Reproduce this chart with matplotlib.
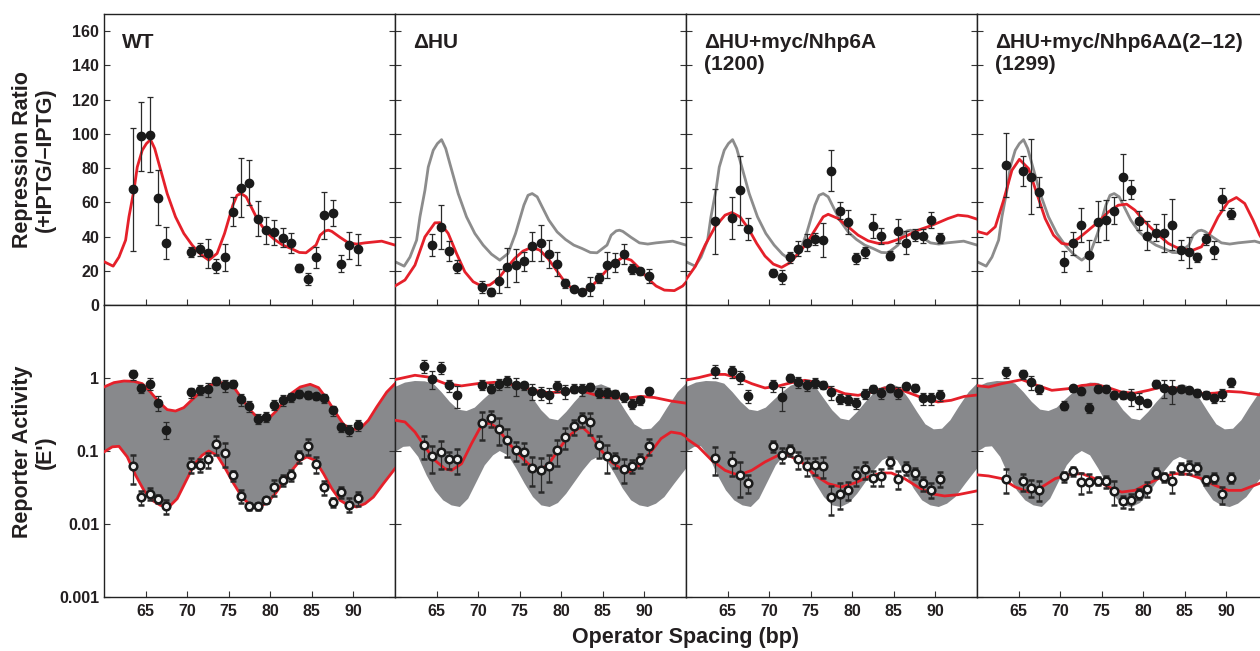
import numpy as np
import matplotlib.pyplot as plt
from matplotlib.ticker import NullLocator

plt.rcParams['font.family'] = ['Liberation Sans', 'DejaVu Sans']
plt.rcParams['font.weight'] = 'bold'

nan = np.nan

# operator spacing (bp) of the measured constructs
spacing = [63.5, 64.5, 65.5, 66.5, 67.5, 70.5, 71.5, 72.5, 73.5, 74.5, 75.5, 76.5, 77.5,
           78.5, 79.5, 80.5, 81.5, 82.5, 83.5, 84.5, 85.5, 86.5, 87.5, 88.5, 89.5, 90.5]

titles = ['WT', '\u0394HU', '\u0394HU+myc/Nhp6A\n(1200)', '\u0394HU+myc/Nhp6A\u0394(2\u201312)\n(1299)']

# ---- top row: repression ratio ----
rr_wt = [67.6, 98.5, 99.5, 62.6, 36.3, 31.1, 32.5, 30.1, 22.9, 27.8, 54.4, 68.6, 71.5,
         50.5, 43.7, 42.4, 39.2, 36.3, 21.7, 15.3, 27.8, 52.3, 53.8, 24.1, 34.8, 32.5]
rr_wt_err = [36, 20, 22, 16, 9.5, 3, 4, 8.5, 4, 8, 8.5, 17, 13, 10, 8, 7.5, 5.5, 6, 2.5,
             3.5, 6, 14, 7.5, 5, 8, 9]
rr_hu = [nan, 35.2, 45.7, 31.5, 22.4, 10.7, 7.6, 14, 22, 23.3, 25.5, 34.4, 36, 29.7,
         23.9, 12.6, 9.3, 7.6, 10.7, 15.7, 23.3, 24.7, 29.7, 21, 19.8, 17.1]
rr_hu_err = [nan, 6.5, 13, 5.8, 3.9, 3.5, 2.6, 7, 11.5, 9.7, 5.5, 8.5, 10.5, 8, 7, 2.4,
             1.5, 1.5, 5.5, 3, 7.8, 5.5, 5.8, 3, 2, 4]
rr_1200 = [49, nan, 50.9, 67, 44.5, 18.8, 16.5, 27.8, 33, 36.5, 38.5, 37.9, 78.5, 55.2,
           48.6, 27.2, 30.7, 46.3, 40.2, 28.8, 43.3, 36.5, 40.8, 40.2, 49.4, 39.2]
rr_1200_err = [19, nan, 12.3, 20, 6.3, 2, 4, 3, 4.5, 5, 3.5, 10, 12, 5, 7, 3, 3, 7, 4.5,
               2.5, 7, 6.5, 3.5, 4, 4.7, 3]
rr_1299 = [82, nan, 78.3, 75, 66.1, 25.3, 36, 46.6, 29.1, 48.6, 49.6, 55.2, 74.8, 67.4,
           49.2, 40.4, 42.2, 42.2, 47, 32.1, 30.7, 27.8, 38.3, 32.1, 61.8, 53.4]
rr_1299_err = [18.7, nan, 9, 22, 8.7, 6, 6.5, 10, 9, 12, 11.5, 8, 13.5, 5.5, 5.5, 8.5, 5,
               11, 15, 6, 9, 2.5, 3, 5.5, 6.5, 3.3]

# model fits (WT fit is repeated in grey on the other panels)
fit_wt_x = [60.0, 61.1, 61.8, 62.6, 63.0, 63.6, 64.0, 64.6, 65.1, 65.6, 66.1, 66.6, 67.1,
            67.6, 68.6, 69.6, 70.6, 71.6, 72.6, 73.6, 74.5, 75.5, 76.0, 76.5, 77.1, 77.6,
            78.5, 79.5, 80.5, 81.5, 82.5, 83.5, 84.3, 85.5, 86.0, 86.6, 87.0, 87.4, 88.4,
            89.4, 90.4, 91.4, 93.4, 95.0]
fit_wt_y = [25.3, 22.7, 28, 37.9, 51.5, 67, 80.6, 90.4, 94.3, 96.6, 91.4, 82.6, 73.9,
            65.1, 51.5, 41.8, 35, 29.7, 26.2, 30.1, 41.8, 58.3, 64.1, 65.1, 63.2, 58.3,
            49.6, 42.7, 38.3, 35, 33, 30.7, 30.5, 35, 40.8, 43.3, 43.7, 43, 39.5, 36.3,
            35.6, 36.3, 37.3, 35]
fit_hu_x = [60.0, 61.2, 62.4, 63.6, 64.8, 65.4, 66.4, 67.4, 68.4, 69.4, 70.4, 71.4, 72.4,
            73.4, 74.4, 75.4, 76.4, 77.4, 78.4, 79.4, 80.4, 81.4, 82.4, 83.4, 84.4, 85.4,
            86.4, 87.4, 88.4, 89.4, 90.4, 91.4, 92.4, 93.6, 94.6, 95.4]
fit_hu_y = [11.1, 14.6, 23.3, 39.8, 48, 48.1, 41.8, 30.1, 19.4, 13.6, 11.1, 11.7, 15.2,
            21.4, 27.2, 31.5, 33.6, 32.1, 27.2, 20.4, 13.6, 9.1, 7.8, 9.7, 14.6, 20, 24.7,
            27.8, 26.2, 21.4, 15.5, 11.1, 8.7, 8.4, 11.1, 15.5]
fit_1200_x = [59.9, 61.1, 62.3, 63.5, 64.7, 65.5, 66.5, 67.5, 68.5, 69.5, 70.5, 71.5, 72.5,
              73.5, 74.5, 75.5, 76.5, 77.1, 78.3, 79.5, 80.7, 81.9, 83.1, 84.3, 85.5, 86.7,
              87.9, 89.1, 90.3, 91.5, 92.7, 93.9, 95.1]
fit_1200_y = [14.2, 22.4, 35, 45.7, 52.5, 54, 51.5, 44.7, 36, 28.6, 23.9, 22, 24.7, 30.1,
              36, 43.7, 51.5, 53, 50.5, 45.7, 40.8, 37.5, 36, 36.3, 38.3, 40.8, 43.7, 45.7,
              48, 50.5, 52.5, 51.9, 50]
fit_1299_x = [60.0, 61.2, 62.2, 63.2, 64.2, 65.1, 66.2, 67.2, 68.2, 69.2, 70.2, 71.0, 72.2,
              73.4, 74.6, 75.8, 77.0, 78.0, 79.0, 80.0, 81.0, 82.0, 83.0, 84.0, 85.0, 86.0,
              87.0, 88.0, 89.0, 90.2, 91.2, 92.2, 93.2, 94.0, 95.0]
fit_1299_y = [43, 41.4, 45.7, 61.2, 78.7, 85.1, 79.7, 65.1, 50.5, 40.8, 36, 35.4, 38.9,
              43.7, 48.6, 54.4, 58.3, 58.9, 55.4, 49.6, 44.7, 40.2, 36, 33.6, 32.5, 32.1,
              34, 41.8, 51.5, 60.2, 62.8, 59.3, 49.6, 40.8, 33]

# ---- bottom row: reporter activity (E') ----
ra_wt_hi = [1.12, 0.73, 0.837, 0.46, 0.196, 0.64, 0.692, 0.707, 0.91, 0.794, 0.83, 0.51,
            0.41, 0.278, 0.292, 0.431, 0.5, 0.55, 0.604, 0.59, 0.567, 0.532, 0.36, 0.213,
            0.196, 0.227]
ra_wt_hi_err = [0.17, 0.11, 0.15, 0.11, 0.05, 0.1, 0.11, 0.15, 0.12, 0.15, 0.1, 0.09, 0.07,
                0.045, 0.045, 0.07, 0.09, 0.08, 0.08, 0.07, 0.06, 0.08, 0.055, 0.03, 0.033,
                0.04]
ra_wt_lo = [0.0615, 0.0234, 0.026, 0.0222, 0.0175, 0.065, 0.065, 0.0769, 0.126, 0.094,
            0.0465, 0.0242, 0.0175, 0.0175, 0.0211, 0.0321, 0.0397, 0.0465, 0.0845, 0.117,
            0.0657, 0.0321, 0.02, 0.0274, 0.0184, 0.0227]
ra_wt_lo_err = [0.026, 0.005, 0.005, 0.003, 0.0037, 0.015, 0.013, 0.018, 0.037, 0.033,
                0.0075, 0.005, 0.002, 0.002, 0.002, 0.008, 0.007, 0.008, 0.015, 0.03, 0.016,
                0.007, 0.003, 0.005, 0.004, 0.005]
ra_hu_hi = [1.46, 0.98, 1.39, 0.79, 0.579, 0.81, 0.715, 0.828, 0.91, 0.794, 0.794, 0.664,
            0.624, 0.59, 0.769, 0.664, 0.715, 0.70, 0.753, 0.63, 0.624, 0.61, 0.55, 0.445,
            0.495, 0.656]
ra_hu_hi_err = [0.3, 0.28, 0.27, 0.15, 0.19, 0.13, 0.1, 0.14, 0.15, 0.22, 0.1, 0.16, 0.13,
                0.13, 0.13, 0.15, 0.1, 0.13, 0.09, 0.1, 0.1, 0.08, 0.08, 0.07, 0.07, 0.08]
ra_hu_lo = [0.12, 0.0845, 0.097, 0.077, 0.077, 0.242, 0.286, 0.2, 0.143, 0.103, 0.097,
            0.0585, 0.0543, 0.0623, 0.102, 0.156, 0.218, 0.272, 0.247, 0.12, 0.0845, 0.077,
            0.0566, 0.0623, 0.0745, 0.117]
ra_hu_lo_err = [0.042, 0.034, 0.04, 0.02, 0.028, 0.1, 0.07, 0.08, 0.06, 0.03, 0.03, 0.025,
                0.027, 0.025, 0.04, 0.05, 0.05, 0.06, 0.08, 0.04, 0.035, 0.018, 0.02, 0.013,
                0.016, 0.03]
ra_1200_hi = [1.25, nan, 1.23, 1.03, 0.567, 0.79, 0.55, 1.01, 0.88, 0.81, 0.865, 0.81,
              0.64, 0.52, 0.505, 0.46, 0.61, 0.715, 0.63, 0.73, 0.63, 0.777, 0.737, 0.532,
              0.532, 0.59]
ra_1200_hi_err = [0.24, nan, 0.23, 0.2, 0.11, 0.15, 0.2, 0.11, 0.15, 0.14, 0.14, 0.11, 0.14,
                  0.08, 0.08, 0.08, 0.09, 0.08, 0.11, 0.08, 0.12, 0.09, 0.08, 0.1, 0.1, 0.1]
ra_1200_lo = [0.0802, nan, 0.0708, 0.0474, 0.0365, 0.117, 0.089, 0.104, 0.077, 0.0623,
              0.0637, 0.0623, 0.0234, 0.026, 0.0295, 0.0465, 0.0566, 0.0432, 0.045, 0.0708,
              0.0418, 0.0592, 0.05, 0.0365, 0.0295, 0.0418]
ra_1200_lo_err = [0.033, nan, 0.025, 0.024, 0.01, 0.02, 0.02, 0.018, 0.02, 0.017, 0.017,
                  0.02, 0.01, 0.01, 0.008, 0.013, 0.015, 0.01, 0.012, 0.013, 0.012, 0.012,
                  0.009, 0.008, 0.007, 0.01]
ra_1299_hi = [1.21, nan, 1.12, 0.88, 0.70, 0.42, 0.73, 0.656, 0.389, 0.715, 0.715, 0.59,
              0.59, 0.567, 0.495, 0.455, 0.837, 0.73, 0.692, 0.715, 0.678, 0.63, 0.59,
              0.532, 0.598, 0.88]
ra_1299_hi_err = [0.2, nan, 0.15, 0.2, 0.1, 0.06, 0.08, 0.07, 0.06, 0.08, 0.08, 0.08, 0.08,
                  0.15, 0.12, 0.04, 0.1, 0.2, 0.25, 0.08, 0.08, 0.08, 0.08, 0.08, 0.12, 0.12]
ra_1299_lo = [0.0418, nan, 0.0385, 0.0315, 0.0295, 0.045, 0.0532, 0.0377, 0.0377, 0.039,
              0.0385, 0.0283, 0.0205, 0.0211, 0.026, 0.0305, 0.0506, 0.044, 0.039, 0.0585,
              0.06, 0.0585, 0.0397, 0.0432, 0.0256, 0.0432]
ra_1299_lo_err = [0.015, nan, 0.01, 0.008, 0.009, 0.007, 0.008, 0.012, 0.01, 0.005, 0.007,
                  0.01, 0.004, 0.005, 0.004, 0.007, 0.008, 0.006, 0.012, 0.01, 0.012, 0.01,
                  0.006, 0.007, 0.007, 0.007]

# WT model envelope (grey band), edges
band_hi_x = [60.0, 61.2, 62.4, 63.6, 64.6, 65.6, 66.6, 67.6, 68.6, 69.6, 70.6, 71.6, 72.6,
             73.6, 74.6, 75.6, 76.6, 77.6, 78.6, 79.6, 80.6, 81.6, 82.6, 83.6, 84.8, 85.8,
             86.8, 87.8, 88.8, 89.8, 90.8, 91.8, 92.8, 94.0, 95.0]
band_hi_y = [0.753, 0.865, 0.91, 0.90, 0.837, 0.64, 0.47, 0.369, 0.353, 0.393, 0.505, 0.64,
             0.785, 0.865, 0.855, 0.753, 0.52, 0.361, 0.278, 0.264, 0.343, 0.47, 0.624,
             0.753, 0.82, 0.737, 0.52, 0.343, 0.232, 0.198, 0.202, 0.264, 0.401, 0.64, 0.837]
band_lo_x = [60.0, 61.0, 61.8, 62.8, 63.8, 64.8, 65.8, 66.8, 67.8, 68.8, 69.8, 70.8, 71.8,
             72.6, 73.6, 74.6, 75.6, 76.6, 77.6, 78.6, 79.6, 80.6, 81.6, 82.6, 83.6, 84.4,
             85.4, 86.4, 87.4, 88.4, 89.4, 90.4, 91.4, 92.4, 93.6, 95.0]
band_lo_y = [0.097, 0.114, 0.116, 0.083, 0.0465, 0.0289, 0.0211, 0.018, 0.0171, 0.0222,
             0.0376, 0.0637, 0.0873, 0.1, 0.0873, 0.0573, 0.0357, 0.0234, 0.018, 0.0171,
             0.0194, 0.026, 0.0376, 0.0543, 0.0745, 0.083, 0.0745, 0.049, 0.0305, 0.0211,
             0.018, 0.0171, 0.019, 0.0234, 0.0357, 0.0573]

# model fits for the mutants (-IPTG upper, +IPTG lower)
hu_hi_x = [60, 62.4, 64, 66, 68, 70, 72, 73.6, 75.2, 76.8, 78.4, 80, 82, 84, 86, 88, 89.6,
           91.2, 93.2, 95.4]
hu_hi_y = [0.95, 1.09, 1.03, 0.84, 0.78, 0.84, 0.873, 0.84, 0.753, 0.678, 0.63, 0.64, 0.692,
           0.59, 0.532, 0.532, 0.56, 0.54, 0.484, 0.445]
hu_lo_x = [60, 61.2, 62.4, 63.6, 64.8, 66, 66.8, 68, 69.2, 70.4, 71.4, 72.4, 73.6, 74.8, 76,
           77.2, 78.4, 79.6, 80.8, 82, 82.6, 83.6, 84.8, 86, 87.2, 88.2, 89.4, 90.6, 92,
           93.2, 94.4, 95.4]
hu_lo_y = [0.264, 0.25, 0.182, 0.114, 0.0745, 0.0573, 0.0543, 0.067, 0.126, 0.225, 0.242,
           0.202, 0.131, 0.092, 0.067, 0.0543, 0.064, 0.102, 0.156, 0.202, 0.209, 0.164,
           0.102, 0.0708, 0.0573, 0.0515, 0.064, 0.092, 0.148, 0.182, 0.173, 0.148]
n1200_hi_x = [59.9, 61.5, 63.1, 64.7, 66.3, 67.9, 69.5, 71.1, 72.7, 74.3, 75.9, 77.5, 79.1,
              80.7, 82.3, 83.9, 85.5, 87.1, 88.7, 90.3, 91.9, 93.5, 95.3]
n1200_hi_y = [0.93, 1.01, 1.12, 1.12, 1.0, 0.837, 0.73, 0.777, 0.865, 0.93, 0.865, 0.715,
              0.61, 0.579, 0.64, 0.73, 0.715, 0.61, 0.52, 0.47, 0.495, 0.56, 0.59]
n1200_lo_x = [59.9, 61.5, 63.1, 64.7, 66.3, 67.9, 69.5, 71.1, 72.3, 73.9, 75.5, 77.1, 78.7,
              80.3, 81.9, 83.5, 84.7, 86.3, 87.9, 89.5, 91.1, 92.7, 94.3, 95.3]
n1200_lo_y = [0.152, 0.114, 0.0745, 0.0543, 0.0465, 0.0543, 0.0708, 0.0873, 0.0873, 0.0708,
              0.0465, 0.0357, 0.0321, 0.0365, 0.044, 0.05, 0.05, 0.0418, 0.0321, 0.026,
              0.0242, 0.0252, 0.0274, 0.0289]
n1299_hi_x = [59.8, 61.4, 63.0, 65.4, 67.0, 69.0, 71.0, 72.6, 74.2, 75.8, 77.4, 79.0, 80.6,
              82.2, 83.8, 85.4, 87.0, 88.6, 90.2, 91.8, 93.9, 95.0]
n1299_hi_y = [0.79, 0.753, 0.837, 0.95, 0.81, 0.678, 0.715, 0.79, 0.82, 0.737, 0.64, 0.62,
              0.678, 0.753, 0.73, 0.678, 0.61, 0.62, 0.656, 0.64, 0.59, 0.57]
n1299_lo_x = [59.8, 61.4, 63.0, 64.6, 66.2, 67.8, 69.4, 71.0, 72.6, 74.2, 75.8, 77.4, 79.0,
              80.6, 82.2, 83.8, 85.4, 87.0, 88.6, 90.2, 91.8, 93.9, 95.0]
n1299_lo_y = [0.0474, 0.0455, 0.0418, 0.0321, 0.0274, 0.0321, 0.0418, 0.0474, 0.049, 0.0418,
              0.0321, 0.0274, 0.0289, 0.0357, 0.044, 0.049, 0.048, 0.0418, 0.0339, 0.0289,
              0.0289, 0.0357, 0.04]

RED = '#e5202a'
GREY_LINE = '#8c8c8c'
BAND = '#88898c'
INK = '#231f20'

W, H = 1260, 651
fig = plt.figure(figsize=(W / 100, H / 100), dpi=100)
lefts = [104, 395, 686, 977]
top_axes = [fig.add_axes([l / W, (H - 305) / H, 291 / W, 291 / H]) for l in lefts]
bot_axes = [fig.add_axes([l / W, (H - 597) / H, 291 / W, 292 / H]) for l in lefts]


def style(ax, first, bottom):
    ax.set_xlim(60, 95)
    ax.set_xticks([65, 70, 75, 80, 85, 90])
    ax.tick_params(direction='in', length=4.5, width=0.8, right=True, color='#333',
                   labelcolor=INK, labelsize=11.5, pad=3.5)
    ax.tick_params(axis='x', pad=5)
    ax.tick_params(labelleft=first, labelbottom=bottom)
    for s in ax.spines.values():
        s.set_linewidth(1.0)
        s.set_color('#222222')


fits = [(fit_wt_x, fit_wt_y), (fit_hu_x, fit_hu_y), (fit_1200_x, fit_1200_y),
        (fit_1299_x, fit_1299_y)]
rr = [(rr_wt, rr_wt_err), (rr_hu, rr_hu_err), (rr_1200, rr_1200_err), (rr_1299, rr_1299_err)]

for i, ax in enumerate(top_axes):
    if i > 0:
        ax.plot(fit_wt_x, fit_wt_y, color=GREY_LINE, lw=2, zorder=2)
    ax.plot(fits[i][0], fits[i][1], color=RED, lw=2, zorder=3)
    ax.errorbar(spacing, rr[i][0], yerr=rr[i][1], fmt='o', ms=6, mfc='#1a1a1a',
                mec='#1a1a1a', ecolor='#2a2a2a', elinewidth=0.9, capsize=2, capthick=0.9,
                zorder=4)
    ax.set_ylim(0, 170)
    ax.set_yticks(range(0, 161, 20))
    style(ax, i == 0, False)
    ax.text(0.062, 0.935, titles[i], transform=ax.transAxes, ha='left', va='top',
            fontsize=15, fontweight='bold', color=INK, linespacing=1.2)

red_hi = [(band_hi_x, band_hi_y), (hu_hi_x, hu_hi_y), (n1200_hi_x, n1200_hi_y),
          (n1299_hi_x, n1299_hi_y)]
red_lo = [(band_lo_x, band_lo_y), (hu_lo_x, hu_lo_y), (n1200_lo_x, n1200_lo_y),
          (n1299_lo_x, n1299_lo_y)]
ra_hi = [(ra_wt_hi, ra_wt_hi_err), (ra_hu_hi, ra_hu_hi_err), (ra_1200_hi, ra_1200_hi_err),
         (ra_1299_hi, ra_1299_hi_err)]
ra_lo = [(ra_wt_lo, ra_wt_lo_err), (ra_hu_lo, ra_hu_lo_err), (ra_1200_lo, ra_1200_lo_err),
         (ra_1299_lo, ra_1299_lo_err)]

for i, ax in enumerate(bot_axes):
    ax.set_yscale('log')
    ax.fill(np.concatenate([band_hi_x, band_lo_x[::-1]]),
            np.concatenate([band_hi_y, band_lo_y[::-1]]), color=BAND, lw=0, zorder=1)
    ax.plot(red_hi[i][0], red_hi[i][1], color=RED, lw=2, zorder=3)
    ax.plot(red_lo[i][0], red_lo[i][1], color=RED, lw=2, zorder=3)
    ax.errorbar(spacing, ra_hi[i][0], yerr=ra_hi[i][1], fmt='o', ms=6, mfc='#1a1a1a',
                mec='#1a1a1a', ecolor='#2a2a2a', elinewidth=0.9, capsize=2, capthick=0.9,
                zorder=4)
    ax.errorbar(spacing, ra_lo[i][0], yerr=ra_lo[i][1], fmt='o', ms=5.5, mfc='#f2f2f2',
                mec='#1a1a1a', mew=1.8, ecolor='#2a2a2a', elinewidth=0.9, capsize=2,
                capthick=0.9, zorder=4)
    ax.set_ylim(0.001, 10)
    ax.set_yticks([0.001, 0.01, 0.1, 1])
    ax.set_yticklabels(['0.001', '0.01', '0.1', '1'])
    ax.yaxis.set_minor_locator(NullLocator())
    style(ax, i == 0, True)

fig.text(34 / W, 1 - 160 / H, 'Repression Ratio\n(+IPTG/\u2013IPTG)', rotation=90,
         ha='center', va='center', fontsize=15.5, fontweight='bold', color=INK,
         linespacing=1.15, multialignment='center')
fig.text(34 / W, 1 - 452 / H, "Reporter Activity\n(E')", rotation=90,
         ha='center', va='center', fontsize=15.5, fontweight='bold', color=INK,
         linespacing=1.15, multialignment='center')
fig.text(686 / W, 1 - 637 / H, 'Operator Spacing (bp)', ha='center', va='center',
         fontsize=15.5, fontweight='bold', color=INK)

fig.savefig('out.png', dpi=100)
